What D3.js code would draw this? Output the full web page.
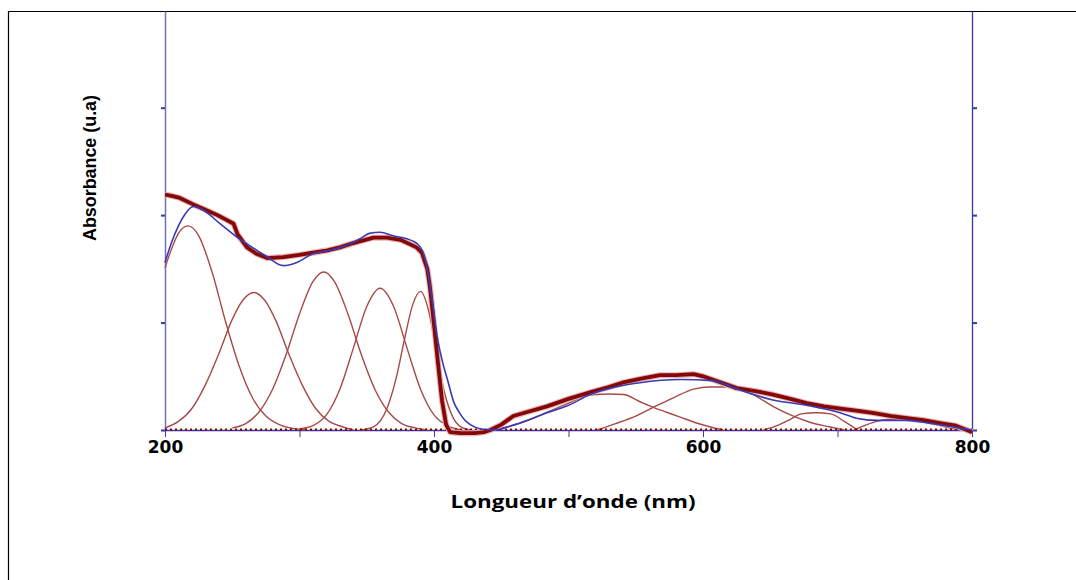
<!DOCTYPE html>
<html lang="fr">
<head>
<meta charset="UTF-8">
<title>Absorbance</title>
<script src="https://d3js.org/d3.v7.min.js"></script>
<style>
  body { margin: 0; background: #fff; }
  svg { display: block; }
</style>
</head>
<body>
<svg></svg>
<script>
// wavelength ticks (nm) and labelled ones
const xTicks = [200, 300, 400, 500, 600, 700, 800];
const xLabels = [200, 400, 600, 800];
const yTicks = [0, 1, 2, 3];

// experimental spectrum [nm, absorbance]
const experimental = [
  [200, 2.19], [205, 2.18], [211, 2.16], [221, 2.10], [230, 2.05], [239, 2.00], [245, 1.96],
  [251, 1.92], [254, 1.82], [261, 1.70], [268, 1.64], [276, 1.60], [288, 1.61], [300, 1.63],
  [310, 1.65], [320, 1.67], [330, 1.70], [340, 1.74], [355, 1.79], [365, 1.79], [375, 1.77],
  [382, 1.73], [387, 1.70], [391, 1.65], [395, 1.50], [397, 1.33], [400, 0.98], [403, 0.62],
  [406, 0.27], [409, 0.05], [412, -0.02], [420, -0.03], [430, -0.03], [437, -0.02], [442, 0.0],
  [450, 0.05], [459, 0.13], [470, 0.17], [484, 0.22], [500, 0.29], [516, 0.35], [530, 0.40],
  [540, 0.44], [555, 0.48], [568, 0.51], [580, 0.51], [593, 0.52], [600, 0.50], [607, 0.47],
  [616, 0.43], [625, 0.39], [640, 0.36], [652, 0.33], [665, 0.29], [677, 0.25], [690, 0.22],
  [702, 0.20], [714, 0.18], [726, 0.16], [740, 0.13], [752, 0.11], [765, 0.09], [776, 0.065],
  [788, 0.04], [798, -0.01], [800, -0.02]
];

// fitted sum (blue)
const fitted = [
  [200, 1.56], [205, 1.75], [210, 1.90], [215, 2.01], [221, 2.08], [228, 2.05], [240, 1.93],
  [253, 1.80], [265, 1.70], [275, 1.62], [288, 1.53], [298, 1.56], [310, 1.64], [322, 1.67],
  [335, 1.72], [345, 1.78], [352, 1.83], [360, 1.84], [369, 1.81], [384, 1.76], [390, 1.70],
  [394, 1.56], [399, 1.18], [402, 0.90], [406, 0.65], [410, 0.47], [415, 0.25], [419, 0.16],
  [423, 0.09], [427, 0.05], [435, 0.01], [445, 0.0], [460, 0.05], [484, 0.16], [500, 0.23],
  [516, 0.33], [535, 0.40], [553, 0.44], [583, 0.47], [607, 0.46], [618, 0.42], [628, 0.37],
  [652, 0.28], [677, 0.23], [702, 0.16], [714, 0.11], [729, 0.09], [752, 0.09], [767, 0.065],
  [789, 0.02], [800, 0.0]
];

// gaussian components (thin brown)
const comp1 = [[200, 1.51], [205, 1.69], [210, 1.83], [217, 1.90], [225, 1.81], [235, 1.47],
  [245, 1.01], [255, 0.60], [265, 0.30], [275, 0.13], [285, 0.05], [295, 0.015], [305, 0]];
const comp2 = [[200, 0.02], [210, 0.08], [220, 0.20], [230, 0.42], [240, 0.71], [250, 1.03],
  [258, 1.21], [266, 1.28], [274, 1.21], [282, 1.03], [292, 0.71], [302, 0.42], [312, 0.20],
  [322, 0.08], [332, 0.03], [340, 0]];
const comp3 = [[250, 0.02], [260, 0.06], [270, 0.17], [280, 0.38], [290, 0.70], [300, 1.08],
  [310, 1.38], [318, 1.47], [326, 1.38], [336, 1.08], [346, 0.70], [356, 0.38], [366, 0.17],
  [376, 0.06], [386, 0.02], [395, 0]];
const comp4 = [[300, 0.01], [310, 0.04], [320, 0.14], [330, 0.38], [340, 0.76], [350, 1.15],
  [360, 1.32], [370, 1.15], [380, 0.76], [390, 0.38], [400, 0.14], [410, 0.04], [420, 0]];
const comp5 = [[345, 0], [355, 0.03], [365, 0.20], [372, 0.49], [378, 0.84], [384, 1.16],
  [390, 1.29], [396, 1.11], [402, 0.71], [408, 0.34], [414, 0.12], [420, 0.03], [428, 0]];
const comp6 = [[440, 0], [455, 0.03], [470, 0.09], [485, 0.17], [500, 0.25], [511, 0.31],
  [520, 0.33], [530, 0.335], [541, 0.33], [552, 0.27], [563, 0.21], [573, 0.165], [583, 0.12],
  [594, 0.07], [605, 0.03], [615, 0]];
const comp7 = [[521, 0], [535, 0.06], [550, 0.13], [563, 0.21], [578, 0.30], [593, 0.38],
  [605, 0.40], [618, 0.40], [628, 0.39], [640, 0.31], [652, 0.22], [665, 0.14], [680, 0.07],
  [694, 0.03], [705, 0]];
const comp8 = [[645, 0], [655, 0.04], [665, 0.10], [673, 0.15], [684, 0.16], [695, 0.15],
  [705, 0.08], [715, 0]];
const comp9 = [[712, 0], [720, 0.04], [729, 0.08], [740, 0.10], [755, 0.09], [767, 0.07],
  [780, 0.03], [792, 0]];
const components = [comp1, comp2, comp3, comp4, comp5, comp6, comp7, comp8, comp9];

const W = 1076, H = 580;
const svg = d3.select('svg').attr('width', W).attr('height', H);

// outer frame (top and left edges visible)
svg.append('line').attr('x1', 8).attr('x2', W).attr('y1', 11.5).attr('y2', 11.5)
  .attr('stroke', '#000').attr('stroke-width', 1.2);
svg.append('line').attr('x1', 8.5).attr('x2', 8.5).attr('y1', 11).attr('y2', H)
  .attr('stroke', '#000').attr('stroke-width', 1.2);

const x = d3.scaleLinear().domain([200, 800]).range([165, 972]);
const y = d3.scaleLinear().domain([0, 3.9]).range([430, 11]);

const axisBlue = '#3838a8';

// left axis
svg.append('g')
  .attr('transform', `translate(${x(200)},0)`)
  .call(d3.axisLeft(y).tickValues(yTicks).tickSize(4).tickSizeOuter(0).tickFormat(''))
  .call(g => g.select('.domain').attr('stroke', '#7070c4').attr('stroke-width', 1.5))
  .call(g => g.selectAll('.tick line').attr('stroke', axisBlue).attr('stroke-width', 2));

// right axis
svg.append('g')
  .attr('transform', `translate(${x(800)},0)`)
  .call(d3.axisRight(y).tickValues(yTicks).tickSize(5).tickSizeOuter(0).tickFormat(''))
  .call(g => g.select('.domain').attr('stroke', axisBlue).attr('stroke-width', 1.3))
  .call(g => g.selectAll('.tick line').attr('stroke', axisBlue).attr('stroke-width', 2));

// bottom axis
const xAxis = svg.append('g')
  .attr('transform', `translate(0,${y(0)})`)
  .call(d3.axisBottom(x).tickValues(xTicks).tickSize(7).tickSizeOuter(0).tickPadding(4)
    .tickFormat(d => xLabels.includes(d) ? d : ''));
xAxis.select('.domain').attr('stroke', axisBlue).attr('stroke-width', 1.6);
xAxis.selectAll('.tick line').attr('stroke', axisBlue).attr('stroke-width', 1);
xAxis.selectAll('.tick text')
  .attr('fill', '#000')
  .style('font-family', '"DejaVu Sans", sans-serif')
  .style('font-weight', 'bold')
  .style('font-size', '17px');

const line = d3.line().x(d => x(d[0])).y(d => y(d[1]));
const smooth = d3.line().x(d => x(d[0])).y(d => y(d[1])).curve(d3.curveMonotoneX);

// components
svg.append('g').selectAll('path')
  .data(components)
  .enter()
  .append('path')
  .attr('d', smooth)
  .attr('fill', 'none')
  .attr('stroke', '#a54a48')
  .attr('stroke-width', 1.4);

// dotted baseline of the components
svg.append('line')
  .attr('x1', x(200)).attr('x2', x(800)).attr('y1', y(0) - 0.5).attr('y2', y(0) - 0.5)
  .attr('stroke', '#8b0000').attr('stroke-width', 2.2).attr('stroke-dasharray', '2,3');

// experimental
svg.append('path')
  .datum(experimental)
  .attr('d', line)
  .attr('fill', 'none')
  .attr('stroke', '#e6b3b3')
  .attr('stroke-width', 6)
  .attr('stroke-linejoin', 'round');
svg.append('path')
  .datum(experimental)
  .attr('d', line)
  .attr('fill', 'none')
  .attr('stroke', '#850808')
  .attr('stroke-width', 3.8)
  .attr('stroke-linejoin', 'round');

// fit
svg.append('path')
  .datum(fitted)
  .attr('d', smooth)
  .attr('fill', 'none')
  .attr('stroke', '#3a3ab4')
  .attr('stroke-width', 1.6);

// axis titles
svg.append('text')
  .text('Longueur d\u2019onde (nm)')
  .attr('x', 573).attr('y', 508)
  .attr('text-anchor', 'middle')
  .attr('textLength', 245)
  .attr('lengthAdjust', 'spacingAndGlyphs')
  .style('font-family', '"Open Sans", sans-serif')
  .style('font-weight', 'bold')
  .style('font-size', '17px');

svg.append('text')
  .text('Absorbance (u.a)')
  .attr('transform', 'translate(96,168) rotate(-90)')
  .attr('text-anchor', 'middle')
  .attr('textLength', 146)
  .attr('lengthAdjust', 'spacingAndGlyphs')
  .style('font-family', '"Liberation Sans Narrow", "Liberation Sans", sans-serif')
  .style('font-weight', 'bold')
  .style('font-size', '18px');
</script>
</body>
</html>
